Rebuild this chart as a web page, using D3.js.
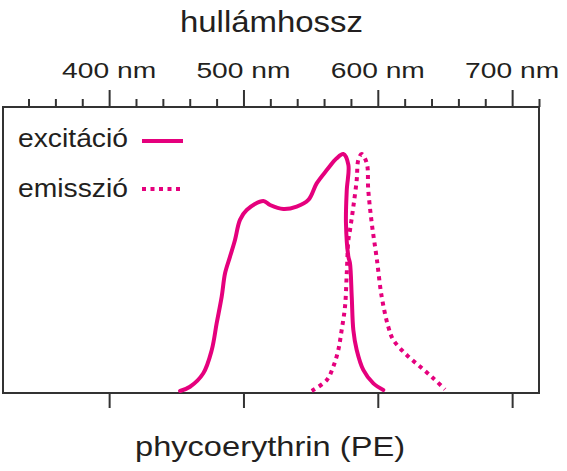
<!DOCTYPE html>
<html>
<head>
<meta charset="utf-8">
<script src="https://cdn.jsdelivr.net/npm/d3@7"></script>
<style>
  html, body { margin: 0; padding: 0; background: #fff; }
  svg { display: block; }
  text { font-family: "Liberation Sans", Arial, Helvetica, sans-serif; fill: #231f20; }
</style>
</head>
<body>
<script>
// ---- data ----
const majorTicks = [400, 500, 600, 700];
const tickLabels = ["400 nm", "500 nm", "600 nm", "700 nm"];
const minorTicks = [340, 360, 380, 420, 440, 460, 480, 520, 540, 560, 580, 620, 640, 660, 680, 720];

const excitationNm = [452.8, 460.2, 470.1, 476.4, 480.1, 483.8, 486.3, 490, 493.7, 497.4, 502.4, 514.8, 519.8, 529.7, 539.6, 548.3, 554.5, 562, 569.4, 574.3, 578.1, 576.9, 576.3, 578.1, 579.3, 580.6, 581.8, 584.3, 589.2, 596.7, 604.1];
const excitationVal = [0.00, 0.018, 0.075, 0.173, 0.287, 0.398, 0.497, 0.567, 0.637, 0.722, 0.764, 0.802, 0.785, 0.768, 0.778, 0.806, 0.876, 0.932, 0.982, 1.0, 0.954, 0.848, 0.709, 0.567, 0.539, 0.398, 0.257, 0.173, 0.089, 0.032, 0.004];

const emissionNm = [550.8, 562, 566.9, 570.6, 573.1, 575.6, 576.9, 578.1, 579.3, 581.8, 584.3, 585.5, 588, 591.8, 592.9, 595.5, 599.2, 602.9, 607.8, 611.6, 621.5, 631.4, 641.3, 650];
const emissionVal = [0.0, 0.046, 0.103, 0.173, 0.257, 0.356, 0.497, 0.637, 0.679, 0.778, 0.89, 0.975, 1.0, 0.961, 0.848, 0.708, 0.56, 0.398, 0.271, 0.215, 0.152, 0.103, 0.054, 0.007];

const seriesNames = ["excitáció", "emisszió"];
const xTitle = "hullámhossz";
const bottomTitle = "phycoerythrin (PE)";

// ---- layout ----
const W = 567, H = 471;
const pLeft = 3, pRight = 539, pTop = 107, pBottom = 393;
const color = "#e5007d";
const frameColor = "#333333";

const x = d3.scaleLinear().domain([321, 720]).range([pLeft, pRight]);
const y = d3.scaleLinear().domain([0, 1]).range([391, 154]);

const svg = d3.select("body").append("svg").attr("width", W).attr("height", H);

// frame
svg.append("rect")
  .attr("x", pLeft).attr("y", pTop)
  .attr("width", pRight - pLeft).attr("height", pBottom - pTop)
  .attr("fill", "none").attr("stroke", frameColor).attr("stroke-width", 2);

// top axis: major
const topAxis = d3.axisTop(x).tickValues(majorTicks).tickSize(17).tickFormat("");
const gTop = svg.append("g").attr("transform", `translate(0,${pTop})`).call(topAxis);
gTop.select(".domain").remove();
gTop.selectAll(".tick line").attr("stroke", frameColor).attr("stroke-width", 2);

// top axis: minor
const topMinor = d3.axisTop(x).tickValues(minorTicks).tickSize(8).tickFormat("");
const gTopMinor = svg.append("g").attr("transform", `translate(0,${pTop})`).call(topMinor);
gTopMinor.select(".domain").remove();
gTopMinor.selectAll(".tick line").attr("stroke", frameColor).attr("stroke-width", 2);

// tick labels (stretched like the reference)
svg.append("g").selectAll("text").data(majorTicks).join("text")
  .attr("x", d => x(d)).attr("y", 78)
  .attr("text-anchor", "middle")
  .attr("font-size", 22)
  .attr("textLength", 94).attr("lengthAdjust", "spacingAndGlyphs")
  .text((d, i) => tickLabels[i]);

// bottom axis
const bottomAxis = d3.axisBottom(x).tickValues(majorTicks).tickSize(15).tickFormat("");
const gBot = svg.append("g").attr("transform", `translate(0,${pBottom})`).call(bottomAxis);
gBot.select(".domain").remove();
gBot.selectAll(".tick line").attr("stroke", frameColor).attr("stroke-width", 2);

// titles
svg.append("text").attr("x", 271.5).attr("y", 32)
  .attr("text-anchor", "middle").attr("font-size", 30)
  .attr("textLength", 183).attr("lengthAdjust", "spacingAndGlyphs")
  .text(xTitle);
svg.append("text").attr("x", 270).attr("y", 456)
  .attr("text-anchor", "middle").attr("font-size", 28)
  .attr("textLength", 270).attr("lengthAdjust", "spacingAndGlyphs")
  .text(bottomTitle);

// curves
const line = d3.line().x(d => x(d[0])).y(d => y(d[1])).curve(d3.curveCatmullRom.alpha(0.5));
const exData = excitationNm.map((v, i) => [v, excitationVal[i]]);
const emData = emissionNm.map((v, i) => [v, emissionVal[i]]);

svg.append("path").attr("d", line(exData))
  .attr("fill", "none").attr("stroke", color).attr("stroke-width", 4)
  .attr("stroke-linecap", "round").attr("stroke-linejoin", "round");
svg.append("path").attr("d", line(emData))
  .attr("fill", "none").attr("stroke", color).attr("stroke-width", 4)
  .attr("stroke-dasharray", "4 4.5");

// legend
const legendY = [147, 197];
const legendLineY = [141, 189];
const legend = svg.append("g");
legend.selectAll("text").data(seriesNames).join("text")
  .attr("x", 18).attr("y", (d, i) => legendY[i])
  .attr("font-size", 25)
  .attr("textLength", 110).attr("lengthAdjust", "spacingAndGlyphs")
  .text(d => d);
legend.append("line").attr("x1", 142).attr("x2", 183)
  .attr("y1", legendLineY[0]).attr("y2", legendLineY[0])
  .attr("stroke", color).attr("stroke-width", 4);
legend.append("line").attr("x1", 142).attr("x2", 181)
  .attr("y1", legendLineY[1]).attr("y2", legendLineY[1])
  .attr("stroke", color).attr("stroke-width", 4)
  .attr("stroke-dasharray", "4 4.5");
</script>
</body>
</html>
